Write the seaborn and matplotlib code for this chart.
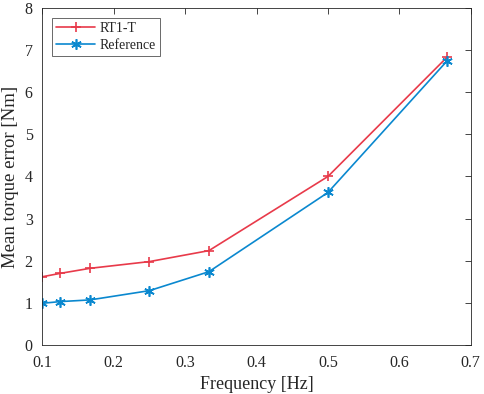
import numpy as np
import matplotlib
matplotlib.use('Agg')
import matplotlib.pyplot as plt
import seaborn as sns

freq = [0.1, 0.125, 0.1667, 0.25, 0.3333, 0.5, 0.6667]
rt1t = [1.62, 1.70, 1.82, 1.98, 2.24, 4.00, 6.83]
reference = [0.99, 1.03, 1.07, 1.29, 1.74, 3.62, 6.74]

series = {'RT1-T': rt1t, 'Reference': reference}
colors = {'RT1-T': '#e83a4a', 'Reference': '#0a88cf'}
markers = {'RT1-T': '+', 'Reference': (6, 2, 0)}

sns.set_style('white')
plt.rcParams['font.family'] = ['Liberation Serif', 'DejaVu Serif']

fig = plt.figure(figsize=(4.84, 3.94), dpi=100)
ax = fig.add_axes([0.0875, 0.1244, 0.885, 0.8553])

for name, vals in series.items():
    sns.lineplot(x=freq, y=vals, ax=ax, color=colors[name], marker=markers[name],
                 markersize=7.5, markeredgewidth=1.2, markeredgecolor=colors[name],
                 linewidth=1.2, label=name)

ax.set_xlim(0.1, 0.7)
ax.set_ylim(0, 8)
ax.set_xticks(np.arange(0.1, 0.71, 0.1))
ax.set_xticklabels(['0.1', '0.2', '0.3', '0.4', '0.5', '0.6', '0.7'])
ax.set_yticks(range(9))
ax.tick_params(direction='in', length=4, width=0.6, top=True, right=True,
               labelsize=11.5, colors='#262626', pad=7)
for s in ax.spines.values():
    s.set_color('#262626')
    s.set_linewidth(0.6)
ax.set_xlabel('Frequency [Hz]', fontsize=13, color='#262626', labelpad=4)
ax.set_ylabel('Mean torque error [Nm]', fontsize=13.5, color='#262626', labelpad=4)

leg = ax.legend(loc='upper left', fontsize=10, frameon=True, fancybox=False,
                edgecolor='#262626', borderpad=0.3, handlelength=2.8,
                handletextpad=0.3, labelspacing=0.3, borderaxespad=0.7)
leg.get_frame().set_linewidth(0.6)

fig.savefig('out.png', dpi=100)
